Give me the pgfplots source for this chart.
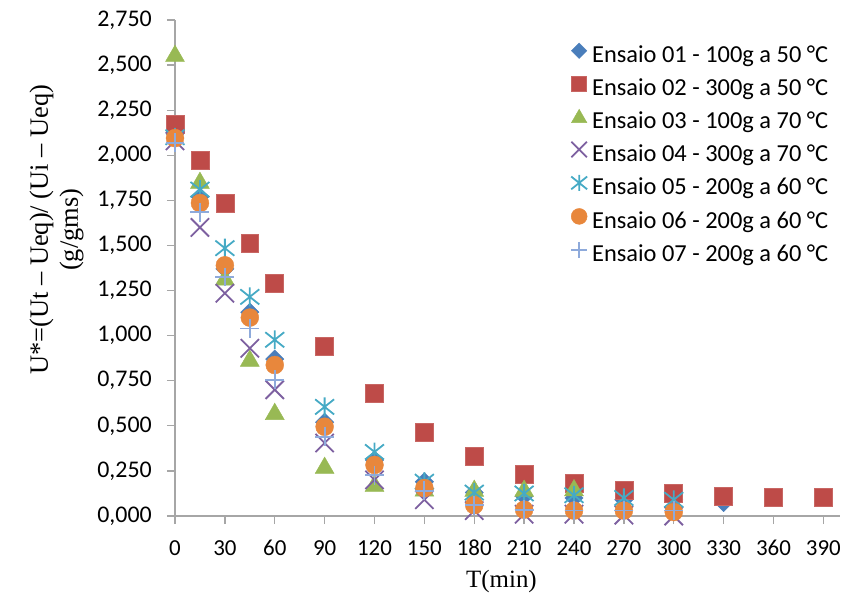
\documentclass[border=0pt]{standalone}
\usepackage{fontspec}
\setmainfont{Carlito}
\newfontfamily\timesf{Liberation Serif}
\usepackage{pgfplots}
\pgfplotsset{compat=1.18}
\usetikzlibrary{plotmarks}
\definecolor{axisgray}{HTML}{A6A6A6}
\definecolor{cA}{HTML}{4A7EBB}
\definecolor{cB}{HTML}{BE4B48}
\definecolor{cC}{HTML}{98B954}
\definecolor{cD}{HTML}{7D60A0}
\definecolor{cE}{HTML}{46AAC5}
\definecolor{cF}{HTML}{E8873C}
\definecolor{cG}{HTML}{8EAADB}
\pgfdeclareplotmark{xstar}{%
  \pgfpathmoveto{\pgfqpoint{0pt}{-\pgfplotmarksize}}%
  \pgfpathlineto{\pgfqpoint{0pt}{\pgfplotmarksize}}%
  \pgfpathmoveto{\pgfqpoint{-\pgfplotmarksize}{-0.8\pgfplotmarksize}}%
  \pgfpathlineto{\pgfqpoint{\pgfplotmarksize}{0.8\pgfplotmarksize}}%
  \pgfpathmoveto{\pgfqpoint{-\pgfplotmarksize}{0.8\pgfplotmarksize}}%
  \pgfpathlineto{\pgfqpoint{\pgfplotmarksize}{-0.8\pgfplotmarksize}}%
  \pgfusepathqstroke}
\pgfplotsset{legmark/.style 2 args={legend image code/.code={\draw[##1, mark size=#1] plot coordinates {(0bp,#2)};}}}
\begin{document}
\begin{tikzpicture}
\begin{axis}[
  at={(0,0)}, anchor=south west,
  scale only axis, width=665bp, height=496bp,
  xmin=0, xmax=400, ymin=0, ymax=2.75,
  xtick={0,30,60,90,120,150,180,210,240,270,300,330,360,390},
  ytick={0,0.25,0.5,0.75,1,1.25,1.5,1.75,2,2.25,2.5,2.75},
  axis x line*=bottom, axis y line*=left,
  axis line style={draw=axisgray, line width=1.3bp},
  tick style={draw=axisgray, line width=1.3bp},
  major tick length=8bp,
  tick align=outside,
  /pgf/number format/assume math mode=true,
  ticklabel style={text=black},
  yticklabel style={font=\fontsize{24}{28}\selectfont, inner xsep=15bp,
    /pgf/number format/.cd, fixed, fixed zerofill, precision=3, use comma, 1000 sep={}},
  xticklabel style={font=\fontsize{23}{26}\selectfont, inner ysep=16bp,
    /pgf/number format/.cd, fixed, precision=0},
  xlabel={T(min)},
  xlabel style={font=\timesf\fontsize{25}{30}\selectfont, at={(axis description cs:0.5,0)}, anchor=base, yshift=-71bp, xshift=-6bp},
  ylabel={U*=(Ut – Ueq)/ (Ui – Ueq)\\(g/gms)},
  ylabel style={font=\timesf\fontsize{26.5}{30}\selectfont, align=center, at={(axis description cs:-0.178,0.577)}, anchor=center},
  legend cell align=left,
  legend style={draw=none, fill=none, at={(rel axis cs:0.591,0.958)}, anchor=north west,
    font=\fontsize{24.5}{28}\selectfont, row sep=8.5bp, column sep=5bp,
    nodes={inner sep=0bp, text height=17bp, text depth=5bp}},
  clip=false,
]
\addplot[only marks, mark=square*, mark size=6.5pt, mark options={rotate=45, fill=cA, draw=cA}, legmark={5.5pt}{6bp}]
  coordinates {(0,2.12) (15,1.77) (30,1.37) (45,1.13) (60,0.87) (90,0.52) (120,0.31) (150,0.19) (180,0.13) (210,0.11) (240,0.10) (270,0.09) (300,0.09) (330,0.075)};
\addlegendentry{Ensaio 01 - 100g a 50 °C}
\addplot[only marks, mark=square*, mark size=9pt, mark options={fill=cB, draw=cB!85!white}, line width=0.6bp, legmark={7.5pt}{6bp}]
  coordinates {(0,2.17) (15,1.97) (30,1.735) (45,1.513) (60,1.29) (90,0.94) (120,0.68) (150,0.466) (180,0.333) (210,0.233) (240,0.182) (270,0.144) (300,0.127) (330,0.11) (360,0.105) (390,0.105)};
\addlegendentry{Ensaio 02 - 300g a 50 °C}
\addplot[only marks, mark=triangle*, mark size=11pt, mark options={fill=cC, draw=cC}, legmark={9pt}{4bp}]
  coordinates {(0,2.55) (15,1.846) (30,1.31) (45,0.86) (60,0.565) (90,0.266) (120,0.166) (150,0.14) (180,0.139) (210,0.139) (240,0.142)};
\addlegendentry{Ensaio 03 - 100g a 70 °C}
\addplot[only marks, mark=x, mark size=13pt, mark options={draw=cD, line width=1.8bp}, legmark={11pt}{6bp}]
  coordinates {(0,2.08) (15,1.60) (30,1.235) (45,0.93) (60,0.70) (90,0.405) (120,0.20) (150,0.09) (180,0.03) (210,0.01) (240,0.01) (270,0.005) (300,0.0)};
\addlegendentry{Ensaio 04 - 300g a 70 °C}
\addplot[only marks, mark=xstar, mark size=9.5pt, mark options={draw=cE, line width=1.8bp}, legmark={8pt}{6bp}]
  coordinates {(0,2.10) (15,1.81) (30,1.485) (45,1.215) (60,0.977) (90,0.605) (120,0.355) (150,0.19) (180,0.13) (210,0.125) (240,0.115) (270,0.10) (300,0.09)};
\addlegendentry{Ensaio 05 - 200g a 60 °C}
\addplot[only marks, mark=*, mark size=9pt, mark options={fill=cF, draw=cF}, legmark={8pt}{6bp}]
  coordinates {(0,2.095) (15,1.735) (30,1.39) (45,1.10) (60,0.837) (90,0.495) (120,0.283) (150,0.155) (180,0.06) (210,0.035) (240,0.03) (270,0.03) (300,0.022)};
\addlegendentry{Ensaio 06 - 200g a 60 °C}
\addplot[only marks, mark=+, mark size=9.5pt, mark options={draw=cG, line width=1.8bp}, legmark={8pt}{6bp}]
  coordinates {(0,2.07) (15,1.685) (30,1.325) (45,1.04) (60,0.755) (90,0.44) (120,0.227) (150,0.14) (180,0.06) (210,0.035) (240,0.03) (270,0.03) (300,0.03)};
\addlegendentry{Ensaio 07 - 200g a 60 °C}
\end{axis}
\pgfresetboundingbox
\path (-175bp,-78bp) rectangle (667bp,516bp);
\end{tikzpicture}
\end{document}
